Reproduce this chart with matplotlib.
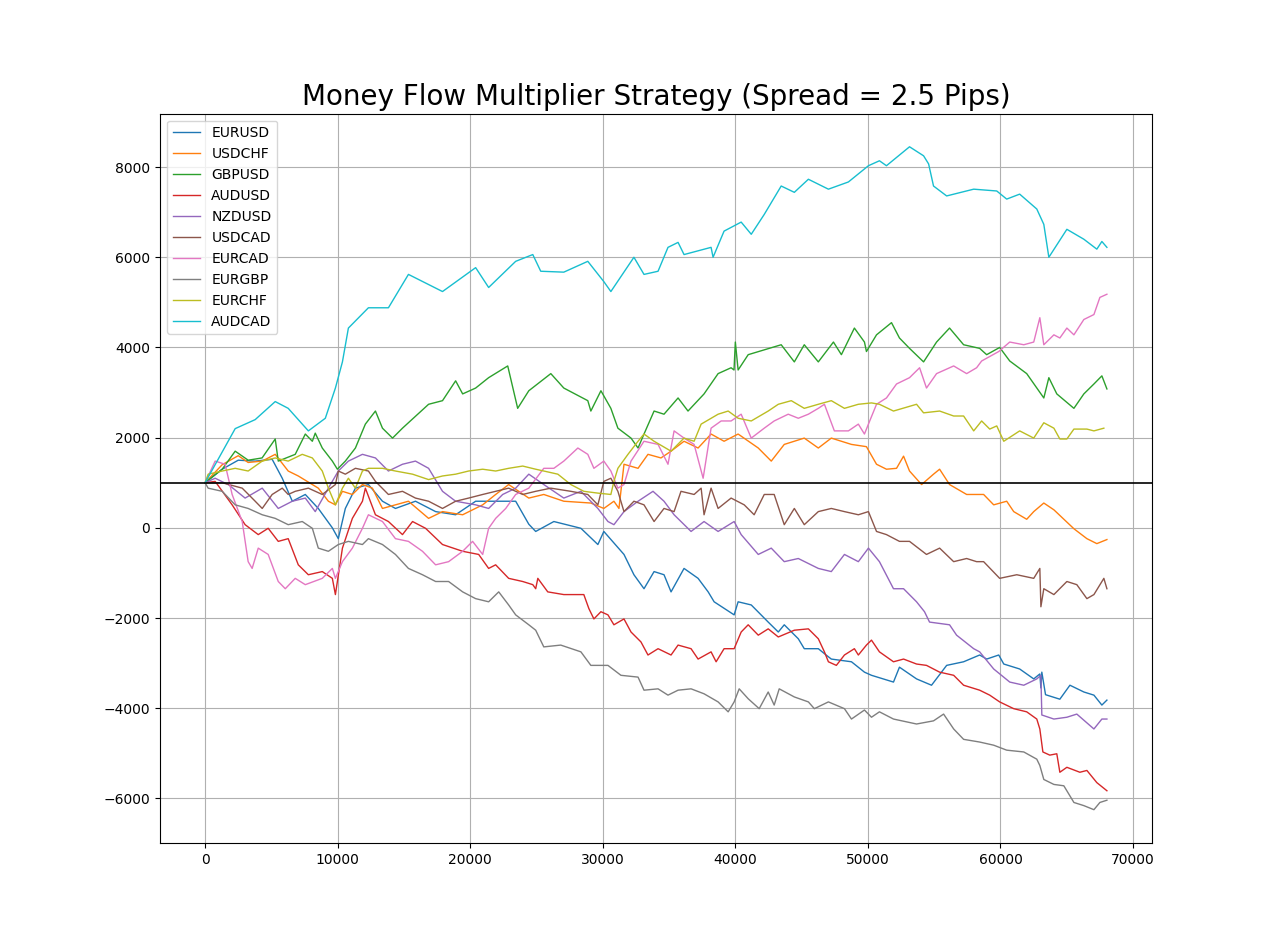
import matplotlib
matplotlib.use("Agg")
import matplotlib.pyplot as plt

labels = ["EURUSD", "USDCHF", "GBPUSD", "AUDUSD", "NZDUSD",
          "USDCAD", "EURCAD", "EURGBP", "EURCHF", "AUDCAD"]

EURUSD = [(0,1000),(1290,1300),(2500,1500),(3780,1480),(5060,1520),(5820,1100),(6580,590),(7560,740),(8540,430),(9600,0),(10050,-240),(10580,430),(11340,880),(12320,960),(13380,590),(14360,430),(15870,590),(17390,360),(18900,290),(20410,590),(21920,590),(23430,590),(24420,80),(24940,-80),(26310,140),(28350,-10),(29630,-370),(30080,-80),(31600,-590),(32350,-1040),(33110,-1350),(33870,-970),(34620,-1040),(35150,-1420),(36130,-900),(37190,-1120),(37950,-1420),(38400,-1640),(39910,-1930),(40210,-1640),(41200,-1710),(42480,-2090),(43240,-2310),(43690,-2150),(44750,-2460),(45200,-2680),(46260,-2680),(46720,-2790),(47240,-2910),(48760,-2970),(49740,-3200),(50270,-3270),(51930,-3420),(52380,-3090),(53670,-3350),(54800,-3490),(55940,-3050),(57220,-2970),(58430,-2820),(58960,-2910),(59870,-2820),(60250,-3020),(61450,-3130),(62510,-3350),(62970,-3240),(63050,-3550),(63120,-3200),(63400,-3700),(64480,-3800),(65240,-3490),(66290,-3640),(67050,-3710),(67650,-3930),(68030,-3820)]

USDCHF = [(0,1000),(1290,1400),(2500,1600),(3250,1450),(4310,1480),(5290,1630),(6270,1260),(7030,1150),(8540,880),(9300,590),(9830,510),(10360,810),(11110,740),(11870,960),(12620,880),(13380,430),(14360,510),(15340,590),(16860,210),(17910,360),(19430,290),(20940,510),(21920,740),(22900,960),(24420,660),(25550,740),(27060,590),(29100,550),(30080,430),(30840,590),(31220,430),(31600,1410),(32660,1320),(33410,1630),(34390,1550),(35150,1700),(36130,1920),(37190,1770),(38170,2080),(39150,1920),(40210,2080),(41730,1770),(42710,1480),(43690,1850),(45200,1990),(46260,1770),(47240,1990),(48760,1850),(49890,1800),(50650,1410),(51400,1300),(52160,1320),(52690,1590),(53140,1260),(54050,960),(54950,1190),(55410,1300),(56160,960),(57450,740),(58730,740),(59490,510),(60470,590),(61000,360),(61980,190),(62510,360),(63270,550),(64030,400),(65540,-20),(66520,-240),(67270,-350),(68030,-260)]

GBPUSD = [(0,1000),(760,1180),(1290,1300),(2270,1700),(3250,1500),(4300,1550),(5290,1970),(5520,1480),(6800,1630),(7560,2080),(8090,1920),(8310,2100),(8840,1770),(9600,1480),(9980,1300),(10580,1480),(11340,1770),(12090,2300),(12850,2590),(13380,2210),(14140,1990),(14890,2210),(16860,2740),(17910,2820),(18900,3260),(19430,2970),(20410,3100),(21390,3330),(22830,3590),(23580,2650),(24420,3040),(26080,3420),(27060,3100),(28870,2820),(29100,2590),(29860,3040),(30610,2650),(31140,2210),(32130,1990),(32660,1770),(33110,2080),(33870,2590),(34620,2520),(35680,2880),(36430,2590),(37640,2970),(38700,3420),(39680,3550),(39900,3500),(40000,4120),(40210,3500),(40970,3840),(43460,4060),(44450,3680),(45200,4060),(46260,3680),(47400,4120),(48000,3840),(48980,4430),(49740,4120),(49890,3910),(50650,4280),(51780,4550),(52380,4210),(53140,3980),(54200,3680),(55180,4120),(56160,4430),(57220,4060),(58430,3980),(58960,3840),(59940,4000),(60700,3700),(61980,3420),(63270,2880),(63650,3330),(64250,2970),(65540,2650),(66290,2970),(67050,3190),(67650,3370),(68030,3080)]

AUDUSD = [(0,1000),(760,1030),(2040,510),(3020,70),(4010,-150),(4760,-10),(5520,-300),(6270,-240),(7030,-820),(7790,-1040),(8840,-970),(9600,-1120),(9830,-1480),(10360,-450),(11110,210),(11870,590),(12090,880),(12850,290),(13830,140),(14890,-150),(15650,140),(16630,-10),(17910,-370),(19430,-520),(20640,-590),(21390,-900),(21920,-820),(22900,-1120),(23960,-1190),(24720,-1260),(24940,-1350),(25100,-1120),(25850,-1420),(27060,-1480),(28570,-1480),(28950,-1790),(29330,-2020),(29860,-1860),(30390,-1930),(30840,-2150),(31600,-2020),(32130,-2310),(32880,-2530),(33410,-2820),(34170,-2680),(35150,-2820),(35680,-2600),(36660,-2680),(37190,-2910),(38170,-2750),(38550,-2970),(39150,-2680),(39910,-2680),(40440,-2310),(40970,-2150),(41730,-2380),(42480,-2240),(43240,-2420),(44450,-2270),(45510,-2240),(46260,-2460),(46720,-2750),(47020,-2970),(47620,-3050),(48230,-2820),(48980,-2680),(49280,-2820),(49890,-2600),(50270,-2490),(50870,-2750),(51930,-2970),(52690,-2910),(53670,-3020),(54420,-3050),(55410,-3200),(56470,-3270),(57220,-3490),(58430,-3600),(59190,-3710),(59940,-3860),(61000,-4010),(61980,-4080),(62740,-4240),(62970,-4460),(63200,-4970),(63720,-5040),(64250,-5010),(64480,-5420),(65010,-5310),(65990,-5420),(66520,-5380),(67270,-5650),(68030,-5830)]

NZDUSD = [(0,1000),(760,1100),(1800,950),(3020,660),(4310,880),(5520,430),(6580,590),(7560,660),(8310,360),(9300,880),(10050,1260),(10810,1480),(11870,1630),(12850,1550),(13830,1260),(14890,1410),(15870,1480),(16860,1320),(17910,810),(18900,590),(20410,510),(21390,430),(22450,740),(23430,880),(24420,1190),(25550,960),(27060,660),(28350,810),(29630,430),(30390,140),(30840,70),(31600,360),(32660,590),(33790,810),(34620,590),(35380,290),(36660,-80),(37640,140),(38700,-80),(39910,140),(40440,-150),(41730,-590),(42710,-450),(43690,-750),(44750,-680),(46260,-900),(47240,-970),(48230,-590),(49280,-750),(50040,-450),(50870,-750),(51930,-1350),(52690,-1350),(53670,-1640),(54270,-1860),(54650,-2090),(56160,-2150),(56690,-2380),(57980,-2680),(58430,-2750),(59490,-3130),(60700,-3420),(61760,-3490),(62740,-3350),(63050,-3270),(63120,-4150),(64030,-4240),(65010,-4200),(65760,-4130),(67050,-4460),(67650,-4240),(68030,-4240)]

USDCAD = [(0,1000),(1290,1000),(2800,880),(3780,590),(4310,430),(5060,740),(5820,880),(6270,740),(6800,810),(7790,880),(8840,740),(9830,960),(10050,1260),(10580,1190),(11340,1320),(12320,1260),(12850,1030),(13830,740),(14890,810),(15870,660),(16860,590),(17910,430),(18900,590),(19880,660),(20940,740),(21920,810),(22900,880),(23960,740),(24940,810),(26080,880),(27590,810),(28870,740),(29630,510),(30080,1030),(30610,1100),(31140,810),(31600,360),(32350,590),(33110,510),(33870,140),(34620,430),(35380,360),(35900,810),(36890,740),(37420,880),(37640,290),(38170,880),(38700,430),(39680,660),(40670,510),(41420,290),(42180,740),(42930,740),(43690,70),(44450,430),(45200,70),(46260,360),(47240,430),(48230,360),(49280,290),(50040,360),(50650,-80),(51400,-150),(52380,-300),(53140,-300),(54420,-590),(55410,-450),(56470,-750),(57450,-680),(58200,-750),(58730,-750),(59940,-1120),(61230,-1040),(62510,-1120),(62970,-900),(63050,-1750),(63270,-1350),(64030,-1480),(65010,-1190),(65760,-1260),(66520,-1570),(67050,-1480),(67800,-1120),(68030,-1350)]

EURCAD = [(0,1000),(760,1480),(1510,1410),(2040,740),(2800,140),(3250,-750),(3550,-900),(4010,-450),(4760,-590),(5520,-1190),(6050,-1350),(6800,-1120),(7560,-1260),(8840,-1120),(9600,-900),(9830,-1120),(10360,-750),(11110,-450),(11870,-10),(12320,290),(13380,140),(14360,-240),(15340,-300),(16400,-520),(17390,-820),(18370,-750),(19430,-520),(20180,-300),(20940,-590),(21390,-10),(21920,210),(22680,430),(23430,740),(24420,880),(25550,1320),(26310,1320),(27060,1480),(28120,1770),(28870,1630),(29330,1320),(30080,1480),(30610,1260),(31140,880),(31600,960),(32130,1480),(33110,1920),(34170,1850),(34920,1410),(35380,2150),(36130,1990),(36890,1850),(37570,1100),(38170,2210),(38930,2370),(39680,2370),(40440,2520),(41200,1990),(42180,2210),(42930,2370),(43990,2520),(44750,2430),(45510,2520),(46260,2650),(46720,2740),(47470,2150),(48530,2150),(49280,2300),(49740,2080),(50040,2300),(50650,2740),(51400,2880),(52160,3190),(53140,3330),(53900,3550),(54420,3100),(55180,3420),(56470,3590),(57450,3420),(58200,3550),(58580,3700),(59870,3910),(60700,4120),(61760,4060),(62510,4120),(62970,4660),(63270,4060),(64030,4280),(64480,4210),(65010,4430),(65540,4280),(66290,4620),(67050,4730),(67500,5110),(68030,5180)]

EURGBP = [(0,1000),(230,880),(1290,810),(2270,510),(3250,430),(4310,290),(5290,210),(6270,70),(7330,140),(8090,-10),(8540,-450),(9300,-520),(10050,-370),(10810,-300),(11870,-370),(12320,-240),(13380,-370),(14360,-590),(15340,-900),(16400,-1040),(17390,-1190),(18370,-1190),(19430,-1420),(20410,-1570),(21390,-1640),(22150,-1420),(22900,-1710),(23430,-1930),(24420,-2150),(24940,-2270),(25550,-2640),(26830,-2600),(28350,-2750),(29100,-3050),(30390,-3050),(31370,-3270),(32660,-3310),(33110,-3600),(34170,-3570),(34920,-3710),(35680,-3600),(36660,-3570),(37640,-3680),(38700,-3860),(39460,-4080),(39910,-3860),(40290,-3570),(40970,-3790),(41800,-4010),(42480,-3640),(42930,-3930),(43310,-3570),(44450,-3750),(45510,-3860),(45960,-4010),(47020,-3860),(48230,-4010),(48760,-4240),(49740,-4040),(50270,-4200),(50870,-4080),(51930,-4240),(53670,-4350),(54950,-4280),(55710,-4130),(56470,-4460),(57220,-4690),(58430,-4750),(59490,-4820),(60470,-4930),(61760,-4970),(62740,-5130),(62970,-5270),(63270,-5580),(64030,-5690),(64780,-5720),(65540,-6090),(66290,-6160),(67050,-6250),(67500,-6090),(68030,-6040)]

EURCHF = [(0,1000),(230,1190),(1290,1260),(2270,1320),(3250,1260),(4310,1480),(5290,1550),(6270,1480),(7330,1630),(8090,1550),(8840,1260),(9300,880),(9830,510),(10360,880),(10810,1100),(11340,880),(11870,1260),(12320,1320),(13380,1320),(14360,1260),(15650,1190),(16860,1070),(17910,1150),(18900,1190),(19880,1260),(20940,1300),(21920,1260),(22900,1320),(23960,1370),(24940,1300),(25550,1260),(26610,1190),(27590,960),(28570,810),(29630,770),(30610,740),(30840,1030),(31140,1320),(31900,1630),(32660,1920),(33110,2080),(33870,1920),(35150,1700),(36130,1990),(36890,1920),(37420,2300),(38700,2520),(39460,2590),(40210,2430),(41200,2370),(42480,2590),(43240,2740),(44220,2820),(45200,2650),(46260,2740),(47240,2820),(48230,2650),(49280,2740),(50270,2770),(50870,2740),(51930,2590),(53670,2740),(54200,2550),(55410,2590),(56470,2480),(57220,2480),(57980,2150),(58580,2370),(59190,2190),(59720,2260),(60250,1920),(61450,2150),(62510,1990),(63270,2330),(64030,2210),(64480,1970),(65010,1970),(65540,2190),(66520,2190),(67050,2150),(67800,2210)]

AUDCAD = [(0,1000),(2270,2200),(3780,2400),(5290,2800),(6270,2650),(7790,2150),(9070,2430),(9830,3100),(10360,3680),(10810,4430),(12320,4880),(13830,4880),(15340,5620),(17910,5240),(20410,5770),(21390,5330),(23430,5910),(24720,6060),(25320,5690),(27060,5670),(28870,5910),(30080,5460),(30610,5240),(32350,6000),(33110,5620),(34170,5690),(34920,6220),(35680,6330),(36130,6060),(38170,6220),(38320,6000),(39150,6580),(40440,6780),(41200,6510),(42180,6950),(43460,7580),(44450,7440),(45510,7730),(47020,7510),(48530,7670),(50040,8030),(50870,8140),(51400,8030),(53140,8450),(54200,8250),(54580,8070),(54950,7580),(55940,7360),(57980,7510),(59720,7470),(60470,7290),(61450,7400),(62740,7070),(63270,6730),(63650,6000),(65010,6620),(66290,6400),(67270,6180),(67650,6350),(68030,6220)]

series = [EURUSD, USDCHF, GBPUSD, AUDUSD, NZDUSD, USDCAD, EURCAD, EURGBP, EURCHF, AUDCAD]
baseline = 1000

fig, ax = plt.subplots(figsize=(12.8, 9.47), dpi=100)
for lab, pts in zip(labels, series):
    xs = [p[0] for p in pts]
    ys = [p[1] for p in pts]
    ax.plot(xs, ys, linewidth=1, label=lab)
ax.axhline(baseline, color="black", linewidth=1.2)
ax.grid(True)
ax.legend(loc="upper left")
ax.set_title("Money Flow Multiplier Strategy (Spread = 2.5 Pips)", fontsize=20)
fig.savefig("out.png", dpi=100)
